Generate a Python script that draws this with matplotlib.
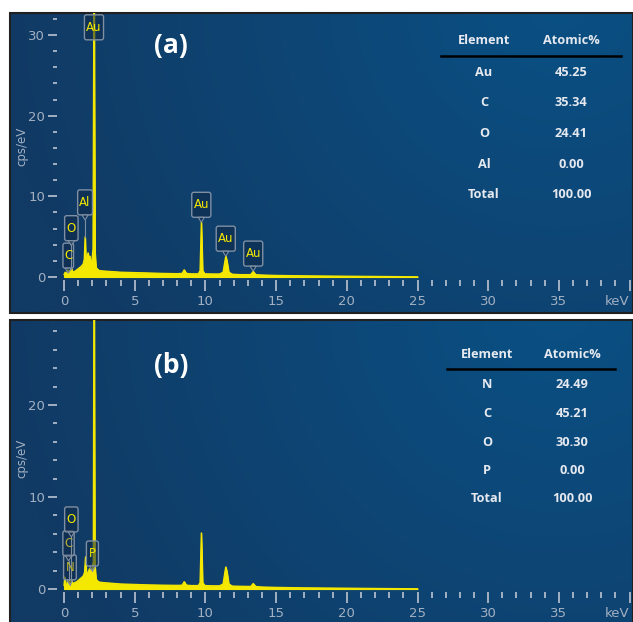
import matplotlib.pyplot as plt
import numpy as np
from matplotlib.patches import FancyBboxPatch, Rectangle, Polygon

# ---- data ----
energy_a = [0.00, 0.08, 0.18, 0.28, 0.36, 0.44, 0.52, 0.62, 0.75, 0.90, 1.05, 1.20,
            1.35, 1.43, 1.49, 1.55, 1.62, 1.70, 1.76, 1.82, 1.90, 1.98, 2.05, 2.12,
            2.19, 2.26, 2.35, 2.50, 2.80, 3.20, 4.00, 5.00, 6.00, 7.00, 8.00, 8.35,
            8.50, 8.65, 9.00, 9.50, 9.62, 9.71, 9.80, 9.95, 10.50, 11.00, 11.25,
            11.38, 11.44, 11.52, 11.65, 11.90, 12.50, 13.20, 13.38, 13.55, 14.00,
            15.00, 17.00, 20.00, 23.00, 25.00]
counts_a = [0.3, 0.6, 0.4, 0.9, 0.5, 0.6, 1.1, 0.6, 0.7, 0.9, 1.1, 1.3,
            1.6, 2.2, 5.0, 2.0, 2.4, 3.0, 1.9, 2.6, 1.6, 2.2, 3.5, 40.0,
            3.0, 1.2, 1.0, 0.8, 0.75, 0.7, 0.6, 0.55, 0.5, 0.45, 0.42, 0.45,
            0.9, 0.45, 0.4, 0.4, 0.8, 6.8, 0.8, 0.4, 0.38, 0.38, 0.6,
            2.0, 2.6, 2.0, 0.6, 0.35, 0.3, 0.3, 0.7, 0.3, 0.25,
            0.2, 0.15, 0.1, 0.06, 0.03]

energy_b = [0.00, 0.05, 0.12, 0.20, 0.28, 0.34, 0.39, 0.45, 0.52, 0.60, 0.75, 0.90,
            1.05, 1.20, 1.35, 1.45, 1.52, 1.58, 1.65, 1.72, 1.80, 1.88, 1.95, 2.01,
            2.07, 2.12, 2.18, 2.26, 2.35, 2.50, 2.80, 3.20, 4.00, 5.00, 6.00, 7.00,
            8.00, 8.35, 8.50, 8.65, 9.00, 9.50, 9.62, 9.71, 9.80, 9.95, 10.50, 11.00,
            11.25, 11.38, 11.44, 11.52, 11.65, 11.90, 12.50, 13.20, 13.38, 13.55,
            14.00, 15.00, 17.00, 20.00, 23.00, 25.00]
counts_b = [0.4, 1.3, 0.5, 0.4, 1.0, 0.6, 0.8, 0.5, 1.0, 0.6, 0.7, 0.8,
            1.0, 1.2, 1.4, 1.8, 3.5, 1.8, 1.7, 1.9, 2.2, 1.6, 2.1, 2.5,
            3.0, 40.0, 2.6, 1.1, 0.9, 0.75, 0.7, 0.65, 0.55, 0.5, 0.45, 0.42,
            0.4, 0.42, 0.8, 0.42, 0.38, 0.38, 0.7, 6.1, 0.7, 0.38, 0.35, 0.35,
            0.55, 1.9, 2.4, 1.9, 0.55, 0.32, 0.3, 0.28, 0.6, 0.28,
            0.22, 0.18, 0.13, 0.09, 0.05, 0.03]

# peak labels: (text, energy, box bottom, tip, box width, faded)
labels_a = [("C", 0.30, 1.1, 0.5, 0.75, False), ("O", 0.52, 4.5, 1.0, 0.95, False),
            ("Al", 1.49, 7.7, 5.0, 1.05, False), ("Au", 2.12, 29.4, None, 1.35, False),
            ("Au", 9.71, 7.4, 6.8, 1.35, False), ("Au", 11.44, 3.2, 2.6, 1.35, False),
            ("Au", 13.38, 1.35, 0.7, 1.35, False)]
labels_b = [("N", 0.42, 1.0, 0.6, 0.9, True), ("C", 0.32, 3.6, 1.0, 0.8, True),
            ("O", 0.52, 6.2, 1.0, 0.95, False), ("P", 2.01, 2.5, 2.2, 0.85, False)]

table_a_el = ["Au", "C", "O", "Al", "Total"]
table_a_pct = ["45.25", "35.34", "24.41", "0.00", "100.00"]
table_b_el = ["N", "C", "O", "P", "Total"]
table_b_pct = ["24.49", "45.21", "30.30", "0.00", "100.00"]

W, H = 633, 622
fig = plt.figure(figsize=(W / 100, H / 100), dpi=100)
fig.patch.set_facecolor("white")

TICK = "#a3b0c2"
YEL = "#f4e800"
NARROW = ["Liberation Sans Narrow", "DejaVu Sans"]


def fbox(x0, y0, x1, y1):
    return [x0 / W, 1 - y1 / H, (x1 - x0) / W, (y1 - y0) / H]


def background(top, bottom):
    bg = fig.add_axes(fbox(10, top, W, bottom))
    ny, nx = 200, 400
    gx, gy = np.meshgrid(np.linspace(0, 1, nx), np.linspace(1, 0, ny))
    r = np.sqrt(((gx - 0.88) * 623) ** 2 + ((gy - 1.05) * 300) ** 2) / 560
    r = np.clip(r, 0, 1)
    light = np.array([10, 80, 132]) / 255
    dark = np.array([17, 58, 100]) / 255
    img = light[None, None, :] * (1 - r[..., None]) + dark[None, None, :] * r[..., None]
    bg.imshow(img, aspect="auto", extent=(0, 1, 0, 1))
    bg.set_xlim(0, 1)
    bg.set_ylim(0, 1)
    bg.axis("off")
    bg.add_patch(Rectangle((0, 0), 1, 1, fill=False, ec="#202020", lw=1.5,
                           transform=bg.transAxes, clip_on=False))


def spectrum(top, y0px, ppu, energy, counts, labels, ymax_tick, tag, ylab_y,
             tab_x, tab_top, tab_step, els, pcts, line_x):
    ppk = 14.14
    x0px = 64
    ax = fig.add_axes(fbox(57, top, W, y0px + 2.5))
    ax.set_xlim(-7 / ppk, (W - x0px) / ppk)
    ax.set_ylim(-2.5 / ppu, (y0px - top) / ppu)
    ax.patch.set_alpha(0)
    for s in ax.spines.values():
        s.set_visible(False)

    ax.fill_between(energy, 0, counts, color=YEL, lw=0.8, zorder=3)
    ax.plot(energy, counts, color=YEL, lw=0.9, zorder=3)

    ax.set_xticks(np.arange(0, 41, 5))
    ax.set_xticklabels([str(v) for v in range(0, 40, 5)] + ["keV"])
    ax.set_xticks(np.arange(0, 41, 1), minor=True)
    ax.set_yticks(np.arange(0, ymax_tick + 1, 10))
    ax.set_yticks(np.arange(0, ymax_tick + 1, 2), minor=True)
    ax.tick_params(axis="x", which="major", direction="out", length=8, width=1.4,
                   color=TICK, labelcolor=TICK, labelsize=9.5, pad=3.5)
    ax.tick_params(axis="x", which="minor", direction="out", length=4.3, width=1.4,
                   color=TICK)
    ax.tick_params(axis="y", which="major", direction="out", length=6.5, width=1.4,
                   color=TICK, labelcolor=TICK, labelsize=9.5, pad=2)
    ax.tick_params(axis="y", which="minor", direction="out", length=3, width=1.4,
                   color=TICK)
    for t in ax.get_xticklabels() + ax.get_yticklabels():
        t.set_family(NARROW)
    ax.get_xticklabels()[-1].set_horizontalalignment("right")
    fig.text(22 / W, 1 - ylab_y / H, "cps/eV", color=TICK, fontsize=8.5,
             rotation=90, ha="center", va="center")

    bh = 25 / ppu
    for txt, e, yb, tip, bw, faded in labels:
        tc = "#b8b030" if faded else YEL
        ax.add_patch(FancyBboxPatch((e - bw / 2, yb), bw, bh,
                                    boxstyle="round,pad=0,rounding_size=0.15",
                                    mutation_aspect=ppk / ppu,
                                    fc=(0.06, 0.16, 0.28, 0.55), ec="#7f8fa3",
                                    lw=1.0, zorder=5))
        ax.text(e, yb + bh / 2, txt, color=tc, fontsize=8.5, ha="center",
                va="center", zorder=6, family=NARROW)
        if tip is not None:
            ax.add_patch(Polygon([(e - 0.22, yb), (e + 0.22, yb), (e, yb - 5 / ppu)],
                                 closed=True, fc=(0.06, 0.16, 0.28, 0.55),
                                 ec="#7f8fa3", lw=0.8, zorder=5))
            ax.plot([e, e], [yb - 5 / ppu, tip], color="#7f8fa3", lw=0.8, zorder=5)

    fig.text(171 / W, 1 - tag[1] / H, tag[0], color="white", fontsize=19,
             fontweight="bold", ha="center", va="center", family="Open Sans")

    tk = dict(color="#e6e9ef", fontsize=9.2, fontweight="bold", ha="center",
              va="center", family="Open Sans")
    fig.text(tab_x[0] / W, 1 - tab_top / H, "Element", **tk)
    fig.text(tab_x[1] / W, 1 - tab_top / H, "Atomic%", **tk)
    fig.add_artist(plt.Line2D([line_x[0] / W, line_x[1] / W],
                              [1 - (tab_top + 15) / H] * 2, color="black", lw=1.8))
    for i, (el, pc) in enumerate(zip(els, pcts)):
        y = tab_top + 31 + i * tab_step
        fig.text(tab_x[0] / W, 1 - y / H, el, **tk)
        fig.text(tab_x[1] / W, 1 - y / H, pc, **tk)
    return ax


background(13, 313)
background(320, 625)
spectrum(13, 277, 8.067, energy_a, counts_a, labels_a, 32, ("(a)", 45), 146,
         (484, 571), 41, 30.7, table_a_el, table_a_pct, (441, 621))
spectrum(320, 589, 9.2, energy_b, counts_b, labels_b, 28, ("(b)", 366), 458,
         (487, 572), 354, 28.5, table_b_el, table_b_pct, (447, 615))

fig.savefig("out.png", dpi=100)
